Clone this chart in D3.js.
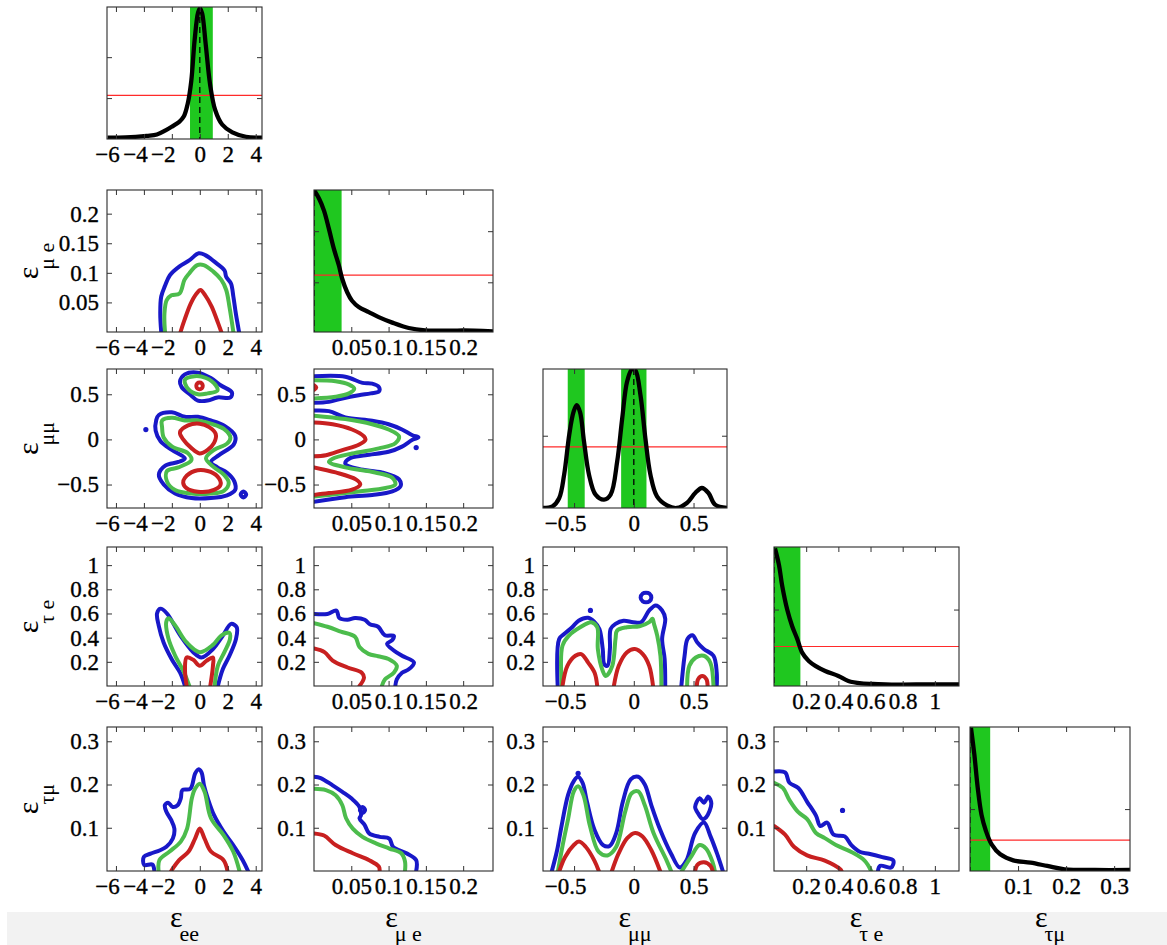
<!DOCTYPE html>
<html><head><meta charset="utf-8">
<script src="https://cdn.jsdelivr.net/npm/d3@7"></script>
<style>body{margin:0;background:#fff}svg{display:block}
svg text{font-family:"Liberation Serif","Times New Roman",Times,serif !important;}</style>
</head><body><svg id="c" width="1167" height="945"></svg>
<script>
// ---------------- data ----------------
const subs = ["ee", "μ e", "μμ", "τ e", "τμ"];
const domEE = [-6.64, 4.45], domMUE = [0, 0.24], domMM = [-0.76, 0.78], domTE = [0, 1.15], domTM = [0, 0.333];
const ticksEE = [-6, -4, -2, 0, 2, 4], labelsEE = ["−6", "−4", "−2", "0", "2", "4"];
const ticksMUE = [0.05, 0.1, 0.15, 0.2], labelsMUE = ["0.05", "0.1", "0.15", "0.2"];
const ticksMM = [-0.5, 0, 0.5], labelsMM = ["−0.5", "0", "0.5"];
const ticksTE = [0.2, 0.4, 0.6, 0.8, 1], labelsTE = ["0.2", "0.4", "0.6", "0.8", "1"];
const ticksTM = [0.1, 0.2, 0.3], labelsTM = ["0.1", "0.2", "0.3"];

// 1D marginal densities (normalised)
const pdfEE = [[-6.6,0.01],[-5.3,0.012],[-3.8,0.024],[-3.07,0.034],[-2.45,0.065],[-1.96,0.096],[-1.47,0.13],[-1.15,0.17],[-0.86,0.27],[-0.61,0.44],[-0.37,0.75],[-0.12,0.96],[0.02,0.99],[0.17,0.95],[0.42,0.72],[0.74,0.41],[1.1,0.22],[1.6,0.11],[2.33,0.05],[3.3,0.017],[4.45,0.01]];
const pdfMUE = [[0,1.0],[0.0067,0.94],[0.0134,0.855],[0.02,0.726],[0.0267,0.585],[0.0334,0.468],[0.0378,0.375],[0.0445,0.28],[0.051,0.22],[0.06,0.176],[0.0735,0.14],[0.0868,0.105],[0.105,0.066],[0.127,0.028],[0.149,0.012],[0.185,0.009],[0.2,0.011],[0.24,0.005]];
const pdfMM = [[-0.76,0],[-0.68,0.012],[-0.625,0.07],[-0.583,0.24],[-0.54,0.53],[-0.505,0.69],[-0.478,0.74],[-0.45,0.69],[-0.417,0.48],[-0.375,0.24],[-0.32,0.096],[-0.25,0.06],[-0.194,0.096],[-0.139,0.335],[-0.097,0.646],[-0.056,0.91],[-0.014,1.0],[0.014,0.99],[0.056,0.81],[0.097,0.5],[0.139,0.24],[0.194,0.084],[0.278,0.019],[0.36,0.0],[0.444,0.036],[0.514,0.108],[0.57,0.144],[0.625,0.108],[0.68,0.024],[0.78,0]];
const pdfTE = [[0.006,0.99],[0.031,0.87],[0.051,0.72],[0.082,0.55],[0.113,0.43],[0.144,0.34],[0.175,0.24],[0.216,0.18],[0.257,0.145],[0.318,0.108],[0.4,0.072],[0.462,0.036],[0.544,0.019],[0.647,0.014],[0.79,0.01],[0.955,0.012],[1.15,0.012]];
const pdfTM = [[0.002,0.995],[0.009,0.81],[0.016,0.58],[0.024,0.39],[0.033,0.28],[0.045,0.185],[0.063,0.116],[0.09,0.074],[0.126,0.058],[0.161,0.035],[0.197,0.012],[0.26,0.007],[0.333,0.007]];

// 68% credible intervals (green) and density thresholds (red)
const bandEE = [[-0.7, 0.93]];
const bandMUE = [[0, 0.037]];
const bandMM = [[-0.553, -0.411], [-0.106, 0.106]];
const bandTE = [[0, 0.164]];
const bandTM = [[0, 0.042]];
const redLevels = [0.33, 0.40, 0.44, 0.284, 0.215];
const diagYTicks = [[0.31, 0.62], [0.35, 0.71], [0.52], [0.55], [0.43]];

// 2D contours: c = colour level (b: outer, g: middle, r: inner)
const ct10 = [
  {c:"b", p:[[-2.76,0],[-2.83,0.031],[-2.76,0.06],[-2.49,0.078],[-2.14,0.096],[-1.45,0.111],[-0.76,0.121],[-0.07,0.133],[0.39,0.13],[1.2,0.116],[1.77,0.104],[1.89,0.093],[2.23,0.082],[2.4,0.06],[2.58,0.031],[2.81,0]]},
  {c:"g", p:[[-2.49,0],[-2.53,0.031],[-2.37,0.054],[-2.03,0.062],[-1.45,0.065],[-1.1,0.088],[-0.76,0.099],[-0.18,0.113],[0.28,0.113],[0.97,0.102],[1.54,0.088],[1.89,0.071],[2.12,0.043],[2.4,0]]},
  {c:"r", p:[[-1.38,0],[-1.1,0.02],[-0.65,0.048],[-0.23,0.065],[0.05,0.071],[0.39,0.062],[0.85,0.043],[1.31,0.015],[1.54,0]]}
];
const ct20 = [
  {c:"b", closed:true, p:[[-1.42,0.64],[-1.07,0.72],[-0.14,0.74],[0.79,0.68],[1.49,0.60],[2.3,0.52],[2.19,0.465],[1.26,0.465],[0.56,0.43],[-0.14,0.43],[-0.72,0.5],[-1.3,0.58]]},
  {c:"g", closed:true, p:[[-1.07,0.66],[-0.37,0.70],[0.44,0.68],[1.14,0.6],[1.26,0.54],[0.56,0.51],[-0.14,0.50],[-0.84,0.56]]},
  {c:"r", closed:true, p:[[-0.25,0.593],[-0.18,0.62],[-0.02,0.63],[0.14,0.62],[0.21,0.593],[0.14,0.565],[-0.02,0.555],[-0.18,0.565]]},
  {c:"b", closed:true, p:[[-2.93,0.27],[-2.0,0.30],[-1.07,0.25],[-0.14,0.25],[0.79,0.21],[1.72,0.155],[2.53,0.039],[2.42,-0.058],[1.37,-0.174],[0.79,-0.25],[1.26,-0.31],[1.95,-0.37],[2.47,-0.465],[2.53,-0.56],[1.95,-0.62],[0.79,-0.65],[-0.6,-0.65],[-1.77,-0.6],[-2.58,-0.5],[-2.93,-0.39],[-2.47,-0.29],[-1.53,-0.25],[-1.07,-0.21],[-2.0,-0.116],[-2.81,-0.02],[-3.16,0.097],[-3.12,0.213]]},
  {c:"g", closed:true, p:[[-2.7,0.21],[-2.0,0.24],[-1.07,0.21],[-0.14,0.21],[0.79,0.174],[1.72,0.116],[2.19,0.02],[1.95,-0.047],[1.02,-0.116],[0.44,-0.21],[1.02,-0.31],[1.72,-0.39],[2.07,-0.48],[1.72,-0.57],[0.79,-0.6],[-0.6,-0.6],[-1.77,-0.56],[-2.35,-0.465],[-2.35,-0.35],[-1.53,-0.31],[-0.6,-0.23],[-0.84,-0.155],[-2.0,-0.078],[-2.58,0.019],[-2.7,0.136]]},
  {c:"r", closed:true, p:[[-1.42,0.078],[-0.84,0.155],[-0.02,0.174],[0.67,0.136],[1.14,0.058],[1.02,-0.039],[0.56,-0.116],[-0.02,-0.155],[-0.6,-0.097],[-1.19,0]]},
  {c:"r", closed:true, p:[[-1.07,-0.426],[-0.37,-0.35],[0.56,-0.35],[1.26,-0.41],[1.49,-0.5],[1.02,-0.56],[-0.14,-0.58],[-0.95,-0.54],[-1.19,-0.48]]},
  {c:"b", closed:true, p:[[2.92,-0.61],[3.12,-0.577],[3.32,-0.61],[3.12,-0.643]]}
];
const ct21 = [
  {c:"b", p:[[0,0.70],[0.042,0.695],[0.065,0.626],[0.078,0.618],[0.087,0.58],[0.087,0.53],[0.076,0.51],[0.06,0.49],[0.038,0.454],[0.02,0.416],[0,0.405]]},
  {c:"g", p:[[0,0.656],[0.029,0.645],[0.047,0.607],[0.054,0.561],[0.047,0.51],[0.029,0.473],[0,0.454]]},
  {c:"r", p:[[0,0.6],[0.003,0.576],[0,0.55]]},
  {c:"b", p:[[0,0.32],[0.02,0.313],[0.042,0.244],[0.078,0.206],[0.1,0.168],[0.118,0.11],[0.132,0.046],[0.14,0.023],[0.132,-0.004],[0.118,-0.08],[0.1,-0.137],[0.069,-0.176],[0.047,-0.214],[0.042,-0.27],[0.06,-0.328],[0.091,-0.366],[0.114,-0.443],[0.116,-0.519],[0.105,-0.576],[0.078,-0.615],[0.042,-0.64],[0,-0.69]]},
  {c:"g", p:[[0,0.263],[0.042,0.225],[0.078,0.168],[0.1,0.11],[0.114,0.034],[0.109,-0.042],[0.087,-0.1],[0.051,-0.156],[0.025,-0.214],[0.02,-0.25],[0.042,-0.31],[0.082,-0.366],[0.105,-0.424],[0.109,-0.5],[0.096,-0.538],[0.06,-0.576],[0.02,-0.615],[0,-0.634]]},
  {c:"r", p:[[0,0.187],[0.025,0.168],[0.051,0.11],[0.067,0.034],[0.069,-0.004],[0.06,-0.06],[0.038,-0.118],[0.016,-0.176],[0,-0.187]]},
  {c:"r", p:[[0,-0.31],[0.029,-0.366],[0.056,-0.443],[0.062,-0.5],[0.051,-0.557],[0.02,-0.595],[0,-0.615]]}
];
const ct30 = [
  {c:"b", p:[[-1.06,0],[-1.41,0.11],[-2.0,0.22],[-2.59,0.36],[-2.94,0.5],[-3.06,0.6],[-2.82,0.64],[-2.35,0.6],[-1.41,0.42],[-0.47,0.28],[0.12,0.236],[0.94,0.306],[1.65,0.417],[2.24,0.514],[2.64,0.486],[2.59,0.39],[2.12,0.25],[1.65,0.14],[1.29,0]]},
  {c:"g", p:[[-0.75,0],[-1.18,0.125],[-1.76,0.25],[-2.24,0.39],[-2.4,0.53],[-2.24,0.56],[-1.76,0.5],[-0.94,0.36],[0,0.28],[0.94,0.34],[1.53,0.417],[2.12,0.44],[2.16,0.39],[1.76,0.28],[1.29,0.167],[1.06,0]]},
  {c:"r", p:[[-0.94,0],[-1.06,0.14],[-0.94,0.236],[-0.47,0.217],[0,0.167],[0.47,0.208],[0.94,0.236],[0.94,0.167],[0.75,0]]}
];
const ct31 = [
  {c:"b", p:[[0,0.596],[0.018,0.596],[0.03,0.624],[0.034,0.562],[0.045,0.548],[0.055,0.562],[0.068,0.548],[0.075,0.511],[0.086,0.49],[0.095,0.42],[0.107,0.415],[0.105,0.38],[0.098,0.35],[0.107,0.294],[0.118,0.25],[0.134,0.195],[0.127,0.138],[0.118,0.11],[0.111,0.054],[0.109,0]]},
  {c:"g", p:[[0,0.52],[0.018,0.49],[0.036,0.45],[0.055,0.407],[0.061,0.322],[0.073,0.266],[0.086,0.246],[0.1,0.223],[0.111,0.167],[0.107,0.11],[0.095,0.054],[0.091,0]]},
  {c:"r", p:[[0,0.31],[0.014,0.28],[0.025,0.21],[0.045,0.153],[0.064,0.11],[0.067,0.068],[0.061,0]]}
];
const ct32 = [
  {c:"b", p:[[-0.637,0],[-0.624,0.39],[-0.583,0.43],[-0.516,0.486],[-0.462,0.54],[-0.382,0.564],[-0.328,0.528],[-0.288,0.472],[-0.26,0.306],[-0.247,0.18],[-0.22,0.167],[-0.2,0.306],[-0.194,0.472],[-0.153,0.514],[-0.086,0.54],[-0.005,0.528],[0.062,0.528],[0.129,0.625],[0.183,0.667],[0.237,0.625],[0.263,0.556],[0.237,0.39],[0.258,0.222],[0.263,0]]},
  {c:"b", closed:true, p:[[0.057,0.73],[0.075,0.765],[0.102,0.772],[0.13,0.765],[0.147,0.73],[0.13,0.7],[0.102,0.692],[0.075,0.7]]},
  {c:"b", p:[[0.398,0],[0.425,0.25],[0.45,0.39],[0.492,0.42],[0.532,0.36],[0.586,0.306],[0.667,0.25],[0.694,0.11],[0.694,0]]},
  {c:"g", p:[[-0.602,0],[-0.597,0.333],[-0.543,0.417],[-0.449,0.486],[-0.355,0.528],[-0.306,0.486],[-0.301,0.306],[-0.26,0.125],[-0.234,0.083],[-0.18,0.167],[-0.153,0.39],[-0.14,0.458],[-0.059,0.486],[0.048,0.494],[0.129,0.528],[0.156,0.556],[0.169,0.514],[0.196,0.417],[0.223,0.25],[0.231,0]]},
  {c:"g", p:[[0.446,0],[0.465,0.167],[0.519,0.236],[0.586,0.25],[0.64,0.194],[0.667,0]]},
  {c:"r", p:[[-0.597,0],[-0.556,0.167],[-0.489,0.25],[-0.44,0.264],[-0.382,0.194],[-0.328,0.11],[-0.306,0]]},
  {c:"r", p:[[-0.167,0],[-0.126,0.167],[-0.059,0.278],[0.008,0.306],[0.075,0.264],[0.129,0.167],[0.161,0]]},
  {c:"r", p:[[0.527,0],[0.538,0.056],[0.573,0.083],[0.608,0.056],[0.618,0]]}
];
const ct40 = [
  {c:"b", p:[[-3.25,0],[-3.4,0.015],[-3.98,0.014],[-4.0,0.033],[-3.52,0.04],[-2.84,0.048],[-2.39,0.056],[-1.93,0.075],[-1.82,0.098],[-2.05,0.118],[-2.39,0.137],[-2.5,0.152],[-2.27,0.158],[-1.93,0.148],[-1.59,0.152],[-1.36,0.168],[-1.25,0.187],[-0.68,0.19],[-0.34,0.225],[-0.11,0.235],[0.11,0.229],[0.3,0.198],[0.57,0.168],[1.02,0.129],[1.7,0.091],[2.39,0.06],[3.07,0.025],[3.45,0]]},
  {c:"g", p:[[-2.95,0],[-2.89,0.025],[-2.16,0.045],[-1.36,0.068],[-0.91,0.098],[-0.57,0.168],[-0.34,0.19],[0,0.202],[0.34,0.183],[0.8,0.122],[1.7,0.083],[2.39,0.045],[2.84,0]]},
  {c:"r", p:[[-2.05,0],[-1.48,0.025],[-0.8,0.045],[-0.34,0.075],[0,0.098],[0.34,0.075],[0.8,0.045],[1.7,0.025],[1.98,0]]}
];
const ct41 = [
  {c:"b", p:[[0,0.218],[0.009,0.215],[0.025,0.198],[0.038,0.183],[0.05,0.168],[0.061,0.148],[0.063,0.129],[0.061,0.122],[0.068,0.106],[0.074,0.087],[0.088,0.079],[0.101,0.075],[0.106,0.056],[0.124,0.041],[0.137,0.025],[0.137,0]]},
  {c:"b", closed:true, p:[[0.0615,0.141],[0.065,0.148],[0.0685,0.141],[0.065,0.134]]},
  {c:"g", p:[[0,0.19],[0.016,0.187],[0.029,0.175],[0.038,0.152],[0.043,0.122],[0.052,0.098],[0.065,0.079],[0.083,0.064],[0.101,0.052],[0.117,0.041],[0.122,0.022],[0.122,0]]},
  {c:"r", p:[[0,0.087],[0.0135,0.082],[0.029,0.06],[0.052,0.041],[0.074,0.025],[0.087,0.01],[0.088,0]]}
];
const ct42 = [
  {c:"b", p:[[-0.686,0],[-0.642,0.048],[-0.605,0.104],[-0.55,0.176],[-0.502,0.208],[-0.466,0.218],[-0.429,0.204],[-0.392,0.16],[-0.33,0.096],[-0.257,0.06],[-0.202,0.058],[-0.147,0.088],[-0.092,0.16],[-0.026,0.212],[0.037,0.218],[0.092,0.2],[0.147,0.152],[0.22,0.096],[0.312,0.04],[0.385,0.008],[0.44,0.024],[0.513,0.088],[0.587,0.112],[0.642,0.08],[0.697,0.04],[0.745,0]]},
  {c:"b", closed:true, p:[[0.513,0.148],[0.55,0.168],[0.587,0.158],[0.623,0.172],[0.649,0.156],[0.605,0.124],[0.575,0.12],[0.532,0.136]]},
  {c:"g", p:[[-0.635,0],[-0.598,0.056],[-0.55,0.12],[-0.502,0.184],[-0.466,0.196],[-0.422,0.176],[-0.367,0.104],[-0.293,0.044],[-0.22,0.036],[-0.147,0.056],[-0.073,0.136],[-0.018,0.18],[0.037,0.184],[0.092,0.152],[0.165,0.088],[0.275,0.024],[0.312,0]]},
  {c:"g", p:[[0.403,0],[0.477,0.032],[0.55,0.06],[0.605,0.052],[0.66,0.02],[0.678,0]]},
  {c:"r", p:[[-0.623,0],[-0.576,0.032],[-0.502,0.06],[-0.458,0.068],[-0.403,0.056],[-0.33,0.024],[-0.293,0]]},
  {c:"r", p:[[-0.183,0],[-0.128,0.04],[-0.055,0.076],[0.011,0.088],[0.073,0.08],[0.147,0.048],[0.22,0]]},
  {c:"r", p:[[0.513,0],[0.532,0.014],[0.587,0.02],[0.642,0.012],[0.66,0]]}
];
const ct43 = [
  {c:"b", p:[[0,0.23],[0.069,0.228],[0.096,0.204],[0.151,0.192],[0.206,0.16],[0.261,0.128],[0.288,0.104],[0.33,0.112],[0.371,0.084],[0.44,0.08],[0.481,0.06],[0.536,0.044],[0.59,0.04],[0.673,0.032],[0.742,0.024],[0.728,0.008],[0.66,0.012],[0.646,0]]},
  {c:"g", p:[[0,0.204],[0.055,0.192],[0.096,0.164],[0.151,0.136],[0.206,0.12],[0.261,0.088],[0.316,0.076],[0.385,0.06],[0.481,0.044],[0.563,0.024],[0.604,0]]},
  {c:"r", p:[[0,0.104],[0.069,0.084],[0.124,0.056],[0.206,0.036],[0.316,0.024],[0.412,0.004],[0.42,0]]}
];
// isolated sample points (blue stars)
const dots20 = [[-3.86, 0.109]];
const dots21 = [[0.137, -0.09]];
const dots32 = [[-0.363, 0.625]];
const dots42 = [[-0.466, 0.226]];
const dots43 = [[0.426, 0.14]];

// ---------------- assembly ----------------
const axesDef = [
  {dom: domEE, ticks: ticksEE, labels: labelsEE},
  {dom: domMUE, ticks: ticksMUE, labels: labelsMUE},
  {dom: domMM, ticks: ticksMM, labels: labelsMM},
  {dom: domTE, ticks: ticksTE, labels: labelsTE},
  {dom: domTM, ticks: ticksTM, labels: labelsTM}
];
const pdfs = [pdfEE, pdfMUE, pdfMM, pdfTE, pdfTM];
const bands = [bandEE, bandMUE, bandMM, bandTE, bandTM];
const contours = {"10": ct10, "20": ct20, "21": ct21, "30": ct30, "31": ct31, "32": ct32, "40": ct40, "41": ct41, "42": ct42, "43": ct43};
const dots = {"20": dots20, "21": dots21, "32": dots32, "42": dots42, "43": dots43};

const colX = [[107, 262], [314, 493], [543, 727], [774, 959], [970, 1130]];
const rowY = [[7, 139], [190, 332], [369, 508], [547, 686], [727, 871]];
const colorOf = {b: "#1818c8", g: "#4cbc4c", r: "#c82020"};
const FONT = '"Liberation Serif","Times New Roman",Times,serif';
const TICKFS = 23;

const svg = d3.select("#c");
svg.append("rect").attr("x", 7).attr("y", 912).attr("width", 1160).attr("height", 33).attr("fill", "#f2f2f2");
const defs = svg.append("defs");

function styleAxis(g, showLabels) {
  g.attr("font-family", null).attr("font-size", null);
  g.select(".domain").remove();
  g.selectAll(".tick line").attr("stroke", "#333").attr("stroke-width", 1);
  g.selectAll(".tick text").style("font-family", FONT).style("font-size", TICKFS + "px")
    .attr("fill", "#000").attr("stroke", "#000").attr("stroke-width", 0.35);
  if (!showLabels) g.selectAll(".tick text").remove();
}

for (let r = 0; r < 5; r++) {
  for (let c = 0; c <= r; c++) {
    const [x0, x1] = colX[c], [y0, y1] = rowY[r];
    const ax = axesDef[c];
    const xs = d3.scaleLinear().domain(ax.dom).range([x0, x1]);
    const ys = r === c ? d3.scaleLinear().domain([0, 1]).range([y1, y0])
                       : d3.scaleLinear().domain(axesDef[r].dom).range([y1, y0]);
    const id = "clip" + r + c;
    defs.append("clipPath").attr("id", id).append("rect")
      .attr("x", x0).attr("y", y0).attr("width", x1 - x0).attr("height", y1 - y0);
    const g = svg.append("g");
    g.append("rect").attr("x", x0).attr("y", y0).attr("width", x1 - x0).attr("height", y1 - y0).attr("fill", "#fff");
    const inner = g.append("g").attr("clip-path", `url(#${id})`);

    if (r === c) {
      inner.selectAll("rect.band").data(bands[r]).join("rect")
        .attr("x", d => xs(d[0])).attr("width", d => xs(d[1]) - xs(d[0]))
        .attr("y", y0).attr("height", y1 - y0).attr("fill", "#1fc71f");
      inner.append("line").attr("x1", xs(0)).attr("x2", xs(0)).attr("y1", y0).attr("y2", y1)
        .attr("stroke", "#000").attr("stroke-width", 1.3).attr("stroke-dasharray", "6,4");
      inner.append("line").attr("x1", x0).attr("x2", x1)
        .attr("y1", ys(redLevels[r])).attr("y2", ys(redLevels[r]))
        .attr("stroke", "#ff2a2a").attr("stroke-width", 1.2);
      const line = d3.line().x(d => xs(d[0])).y(d => ys(d[1])).curve(d3.curveCatmullRom.alpha(0.5));
      inner.append("path").attr("d", line(pdfs[r])).attr("fill", "none")
        .attr("stroke", "#000").attr("stroke-width", 4.3).attr("stroke-linejoin", "round");
    } else {
      const key = "" + r + c;
      const open = d3.line().x(d => xs(d[0])).y(d => ys(d[1])).curve(d3.curveCatmullRom.alpha(0.5));
      const closed = d3.line().x(d => xs(d[0])).y(d => ys(d[1])).curve(d3.curveCatmullRomClosed.alpha(0.5));
      inner.selectAll("path.ct").data(contours[key]).join("path")
        .attr("d", d => (d.closed ? closed : open)(d.p))
        .attr("fill", "none").attr("stroke", d => colorOf[d.c])
        .attr("stroke-width", 4).attr("stroke-linejoin", "round").attr("stroke-linecap", "round");
      if (dots[key]) {
        inner.selectAll("circle.dot").data(dots[key]).join("circle")
          .attr("cx", d => xs(d[0])).attr("cy", d => ys(d[1])).attr("r", 2.6).attr("fill", colorOf.b);
      }
    }

    // frame
    g.append("rect").attr("x", x0).attr("y", y0).attr("width", x1 - x0).attr("height", y1 - y0)
      .attr("fill", "none").attr("stroke", "#2a2a2a").attr("stroke-width", 1.1);

    // x axes (bottom with labels, top mirrored)
    const fmtX = d => ax.labels[ax.ticks.indexOf(d)];
    const gb = g.append("g").attr("transform", `translate(0,${y1})`)
      .call(d3.axisBottom(xs).tickValues(ax.ticks).tickFormat(fmtX).tickSizeInner(-5).tickSizeOuter(0).tickPadding(7));
    styleAxis(gb, true);
    gb.selectAll(".tick text").attr("dx", d => d < 0 ? -9 : 0);
    const gt = g.append("g").attr("transform", `translate(0,${y0})`)
      .call(d3.axisTop(xs).tickValues(ax.ticks).tickSizeInner(-5).tickSizeOuter(0));
    styleAxis(gt, false);

    // y axes
    if (r === c) {
      const gl = g.append("g").attr("transform", `translate(${x0},0)`)
        .call(d3.axisLeft(ys).tickValues(diagYTicks[r]).tickSizeInner(-5).tickSizeOuter(0));
      styleAxis(gl, false);
      const gr = g.append("g").attr("transform", `translate(${x1},0)`)
        .call(d3.axisRight(ys).tickValues(diagYTicks[r]).tickSizeInner(-5).tickSizeOuter(0));
      styleAxis(gr, false);
    } else {
      const ay = axesDef[r];
      const fmtY = d => ay.labels[ay.ticks.indexOf(d)];
      const gl = g.append("g").attr("transform", `translate(${x0},0)`)
        .call(d3.axisLeft(ys).tickValues(ay.ticks).tickFormat(fmtY).tickSizeInner(-5).tickSizeOuter(0).tickPadding(8));
      styleAxis(gl, true);
      const gr = g.append("g").attr("transform", `translate(${x1},0)`)
        .call(d3.axisRight(ys).tickValues(ay.ticks).tickSizeInner(-5).tickSizeOuter(0));
      styleAxis(gr, false);
    }
  }
}

// axis titles: bottom row
for (let c = 0; c < 5; c++) {
  const cx = (colX[c][0] + colX[c][1]) / 2;
  const t = svg.append("text").attr("x", cx).attr("y", 927).attr("text-anchor", "middle")
    .style("font-family", FONT).style("font-size", "30px").attr("fill", "#000");
  t.append("tspan").text("ε");
  t.append("tspan").attr("dy", 14).attr("dx", -3).style("font-size", "22px").text(subs[c]);
}
// axis titles: left column
for (let r = 1; r < 5; r++) {
  const cy = (rowY[r][0] + rowY[r][1]) / 2;
  const t = svg.append("text").attr("transform", `translate(38,${cy}) rotate(-90)`).attr("text-anchor", "middle")
    .style("font-family", FONT).style("font-size", "30px").attr("fill", "#000");
  t.append("tspan").text("ε");
  t.append("tspan").attr("dy", 16).attr("dx", -3).style("font-size", "22px").text(subs[r]);
}
</script></body></html>
